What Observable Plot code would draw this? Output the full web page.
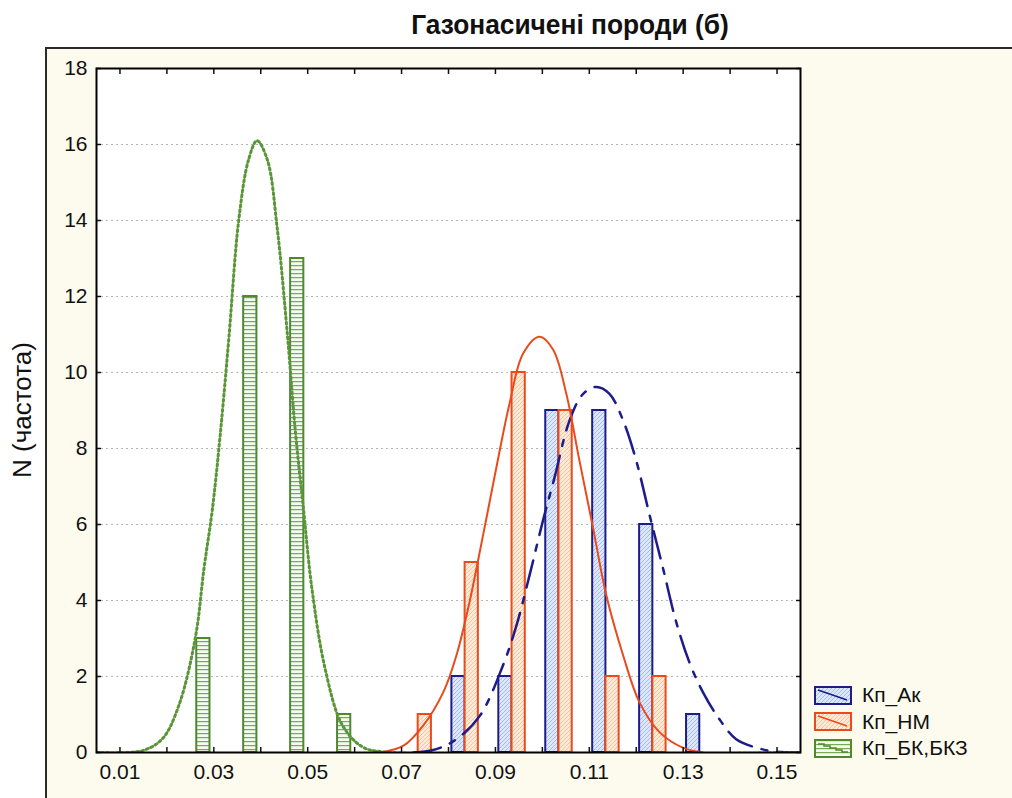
<!DOCTYPE html>
<html>
<head>
<meta charset="utf-8">
<script src="https://cdn.jsdelivr.net/npm/d3@7"></script>
<script src="https://cdn.jsdelivr.net/npm/@observablehq/plot@0.6"></script>
<style>
  html, body { margin: 0; padding: 0; background: #ffffff; width: 1012px; height: 798px; overflow: hidden; }
  body { position: relative; font-family: "Liberation Sans", Arial, sans-serif; }
  #panel { position: absolute; left: 45px; top: 47px; right: 0; bottom: 0; background: #fdfbee;
           border-left: 2px solid #2b2b2b; border-top: 2px solid #2b2b2b; }
  #title { position: absolute; top: 9px; left: 370px; width: 400px; text-align: center;
           font-family: "Liberation Sans Narrow", "Liberation Sans", Arial, sans-serif; font-weight: bold;
           font-size: 28px; color: #111; transform: scaleX(0.94); transform-origin: 50% 50%; }
  #ylabel { position: absolute; left: 22px; top: 410px; transform: translate(-50%, -50%) rotate(-90deg);
            white-space: nowrap; font-size: 26px; color: #111; }
  #chart { position: absolute; left: 0; top: 0; }
  #legend { position: absolute; left: 814px; top: 682px; }
  .row { display: flex; align-items: center; height: 26.5px; }
  .row svg { display: block; }
  .row span { margin-left: 10px; font-size: 21px; color: #111; }
</style>
</head>
<body>
<svg width="0" height="0" style="position:absolute">
  <defs>
    <pattern id="hatchBlue" patternUnits="userSpaceOnUse" width="4" height="4">
      <rect width="4" height="4" fill="#dde7fa"></rect>
      <path d="M-1,1 l2,-2 M0,4 l4,-4 M3,5 l2,-2" stroke="#98b0e8" stroke-width="0.8"></path>
    </pattern>
    <pattern id="hatchOrange" patternUnits="userSpaceOnUse" width="4" height="4">
      <rect width="4" height="4" fill="#feead8"></rect>
      <path d="M-1,1 l2,-2 M0,4 l4,-4 M3,5 l2,-2" stroke="#f6b88c" stroke-width="0.8"></path>
    </pattern>
    <pattern id="hatchGreen" patternUnits="userSpaceOnUse" width="4" height="4">
      <rect width="4" height="4" fill="#f6f9f0"></rect>
      <rect y="1" width="4" height="1.2" fill="#7aa857"></rect>
    </pattern>
  </defs>
</svg>
<div id="panel"></div>
<div id="chart"></div>
<div id="title">Газонасичені породи (б)</div>
<div id="ylabel">N (частота)</div>
<div id="legend"></div>
<script>
// ---- data ----
const binStarts = [0.02, 0.03, 0.04, 0.05, 0.06, 0.07, 0.08, 0.09, 0.10, 0.11, 0.12, 0.13];
const countsAk  = [0, 0, 0, 0, 0, 0, 2, 2, 9, 9, 6, 1];
const countsNM  = [0, 0, 0, 0, 0, 1, 5, 10, 9, 2, 2, 0];
const countsBK  = [3, 12, 13, 1, 0, 0, 0, 0, 0, 0, 0, 0];
const seriesNames = ["Кп_Ак", "Кп_НМ", "Кп_БК,БКЗ"];

// fitted normal curves
const curveBKx = [0.005, 0.0148, 0.0191, 0.0226, 0.0261, 0.0279, 0.0297, 0.0314, 0.0332, 0.0353, 0.0374, 0.0392, 0.0414, 0.0435, 0.0456, 0.0474, 0.0491, 0.0509, 0.0537, 0.0573, 0.0615, 0.0658, 0.155];
const curveBKy = [0, 0.05, 0.37, 1.26, 3.05, 4.84, 6.41, 8.41, 10.9, 14.0, 15.6, 16.1, 15.6, 13.8, 11.1, 8.41, 6.41, 4.31, 2.21, 0.74, 0.16, 0.02, 0];
const curveNMx = [0.0654, 0.0704, 0.0746, 0.0789, 0.0817, 0.0845, 0.0874, 0.0902, 0.0930, 0.0959, 0.0994, 0.1023, 0.1051, 0.1079, 0.1108, 0.1136, 0.1172, 0.1207, 0.1250, 0.1299, 0.1342];
const curveNMy = [0, 0.18, 0.71, 1.59, 2.56, 3.97, 5.74, 7.50, 9.18, 10.5, 10.94, 10.6, 9.44, 7.68, 5.91, 4.15, 2.56, 1.32, 0.53, 0.13, 0];
const curveAkx = [0.0725, 0.0774, 0.0817, 0.0867, 0.0916, 0.0945, 0.0973, 0.1001, 0.1026, 0.1058, 0.1087, 0.1115, 0.1143, 0.1172, 0.1200, 0.1228, 0.1257, 0.1285, 0.1313, 0.1342, 0.1377, 0.1413, 0.1455, 0.1498, 0.155];
const curveAky = [0, 0.09, 0.35, 0.97, 2.29, 3.35, 4.68, 6.09, 7.24, 8.74, 9.44, 9.62, 9.44, 8.74, 7.68, 6.27, 4.85, 3.44, 2.38, 1.59, 0.88, 0.35, 0.13, 0.02, 0];

const xTicks = [0.01, 0.02, 0.03, 0.04, 0.05, 0.06, 0.07, 0.08, 0.09, 0.10, 0.11, 0.12, 0.13, 0.14, 0.15];
const xTickLabels = ["0.01", "0.03", "0.05", "0.07", "0.09", "0.11", "0.13", "0.15"];
const yTicks = [0, 2, 4, 6, 8, 10, 12, 14, 16, 18];

// ---- styles ----
const colAk = "#1c1c8a", colNM = "#ea4a1c", colBK = "#4e8a2c";
const fills = ["url(#hatchBlue)", "url(#hatchOrange)", "url(#hatchGreen)"];
const strokes = [colAk, colNM, colBK];

const barW = 0.00282, barOff = 0.00072;
function barsFor(counts, i) {
  return binStarts.map((b, j) => ({b, n: counts[j]})).filter(d => d.n > 0)
    .map(d => ({x1: d.b + barOff + i * barW, x2: d.b + barOff + (i + 1) * barW, n: d.n}));
}
const pts = (xs, ys) => xs.map((x, i) => ({x, y: ys[i]}));

const chart = Plot.plot({
  width: 1012, height: 798,
  marginLeft: 96, marginRight: 212, marginTop: 68, marginBottom: 46,
  x: {domain: [0.005, 0.155]},
  y: {domain: [0, 18]},
  style: {background: "transparent", fontFamily: "'Liberation Sans', Arial, sans-serif", color: "#111"},
  marks: [
    Plot.frame({fill: "white", stroke: "none"}),
    Plot.gridY(yTicks.filter(v => v > 0 && v < 18), {stroke: "#b5b5b5", strokeOpacity: 1, strokeDasharray: "2,3"}),
    ...[countsAk, countsNM, countsBK].map((c, i) =>
      Plot.rectY(barsFor(c, i), {x1: "x1", x2: "x2", y: "n", fill: fills[i], stroke: strokes[i], strokeWidth: 2})),
    Plot.line(pts(curveAkx, curveAky), {x: "x", y: "y", stroke: colAk, strokeWidth: 2.5, strokeDasharray: "28,10,6,10", curve: "catmull-rom", clip: true}),
    Plot.line(pts(curveNMx, curveNMy), {x: "x", y: "y", stroke: colNM, strokeWidth: 2, curve: "catmull-rom", clip: true}),
    Plot.line(pts(curveBKx, curveBKy), {x: "x", y: "y", stroke: "#5a9636", strokeWidth: 3, strokeDasharray: "2,3", curve: "catmull-rom", clip: true}),
    Plot.axisX(xTicks, {anchor: "bottom", tickSize: -5, tickFormat: () => "", label: null, strokeWidth: 1.5}),
    Plot.axisX(xTicks, {anchor: "top", tickSize: -5, tickFormat: () => "", label: null, strokeWidth: 1.5}),
    Plot.axisY(yTicks, {anchor: "left", tickSize: -5, tickFormat: () => "", label: null, strokeWidth: 1.5}),
    Plot.axisY(yTicks, {anchor: "right", tickSize: -5, tickFormat: () => "", label: null, strokeWidth: 1.5}),
    Plot.axisX(xTickLabels.map(Number), {anchor: "bottom", tickSize: 0, tickPadding: 12, fontSize: 21, tickFormat: d => d.toFixed(2), label: null}),
    Plot.axisY(yTicks, {anchor: "left", tickSize: 0, tickPadding: 9, fontSize: 21, label: null}),
    Plot.frame({stroke: "#000", strokeWidth: 2})
  ]
});
document.getElementById("chart").appendChild(chart);

// ---- legend ----
const legend = document.getElementById("legend");
const lineStyles = [
  `<line x1="4" y1="4" x2="33" y2="14" stroke="${colAk}" stroke-width="1.5"/>`,
  `<line x1="4" y1="4" x2="33" y2="14" stroke="${colNM}" stroke-width="1.5"/>`,
  `<path d="M4,5 h6 v2 h6 v2 h6 v2 h6 v2 h6" fill="none" stroke="${colBK}" stroke-width="1.5"/>`
];
seriesNames.forEach((name, i) => {
  const row = document.createElement("div");
  row.className = "row";
  row.innerHTML = `<svg width="38" height="19"><rect x="1" y="1" width="36" height="17" fill="${fills[i]}" stroke="${strokes[i]}" stroke-width="2"/>${lineStyles[i]}</svg><span>${name}</span>`;
  legend.appendChild(row);
});
</script>
</body>
</html>
